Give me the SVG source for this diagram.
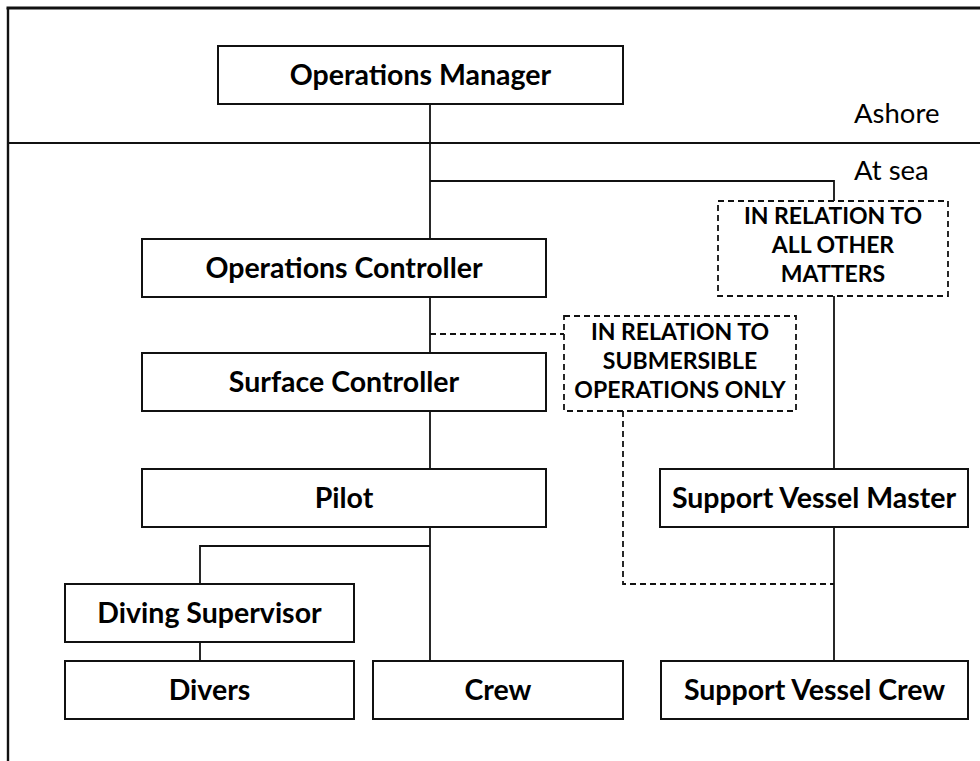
<svg xmlns="http://www.w3.org/2000/svg" width="980" height="761" viewBox="0 0 980 761">
<style>
  .box { fill: #fff; stroke: #111; stroke-width: 2; }
  .note { fill: #fff; stroke: #111; stroke-width: 1.8; stroke-dasharray: 6 4; }
  .lbl { font-family: Lato, "Liberation Sans", sans-serif; font-weight: bold; font-size: 28.5px; fill: #000; text-anchor: middle; }
  .nt { font-family: Lato, "Liberation Sans", sans-serif; font-weight: bold; font-size: 23px; fill: #000; text-anchor: middle; }
  .zone { font-family: Lato, "Liberation Sans", sans-serif; font-size: 27.5px; fill: #000; }
  .ln { fill: none; stroke: #111; stroke-width: 1.8; }
  .dl { fill: none; stroke: #111; stroke-width: 1.8; stroke-dasharray: 6 4; }
</style>
<rect width="980" height="761" fill="#fff"/>
<g id="frame">
  <line x1="6.5" y1="8" x2="980" y2="8" stroke="#111" stroke-width="3"/>
  <line x1="8" y1="8" x2="8" y2="761" stroke="#111" stroke-width="2.4"/>
  <line x1="8" y1="143" x2="980" y2="143" stroke="#111" stroke-width="2"/>
  <text class="zone" x="854" y="123">Ashore</text>
  <text class="zone" x="854" y="180">At sea</text>
</g>
<g id="connectors">
  <path class="ln" d="M430,104 V239"/>
  <path class="ln" d="M430,181 H834 V201"/>
  <path class="ln" d="M834,296 V469"/>
  <path class="ln" d="M430,297 V353"/>
  <path class="dl" d="M430,334 H564"/>
  <path class="ln" d="M430,411 V469"/>
  <path class="ln" d="M430,527 V661"/>
  <path class="ln" d="M430,546 H200 V584"/>
  <path class="ln" d="M200,642 V661"/>
  <path class="ln" d="M834,527 V661"/>
  <path class="dl" d="M623,411 V584 H834"/>
</g>
<g id="operations-manager">
  <rect class="box" x="218" y="46" width="405" height="58"/>
  <text class="lbl" x="420.5" y="85">Operations Manager</text>
</g>
<g id="operations-controller">
  <rect class="box" x="142" y="239" width="404" height="58"/>
  <text class="lbl" x="344" y="278">Operations Controller</text>
</g>
<g id="surface-controller">
  <rect class="box" x="142" y="353" width="404" height="58"/>
  <text class="lbl" x="344" y="392">Surface Controller</text>
</g>
<g id="pilot">
  <rect class="box" x="142" y="469" width="404" height="58"/>
  <text class="lbl" x="344" y="508">Pilot</text>
</g>
<g id="diving-supervisor">
  <rect class="box" x="65" y="584" width="289" height="58"/>
  <text class="lbl" x="209.5" y="623">Diving Supervisor</text>
</g>
<g id="divers">
  <rect class="box" x="65" y="661" width="289" height="58"/>
  <text class="lbl" x="209.5" y="700">Divers</text>
</g>
<g id="crew">
  <rect class="box" x="373" y="661" width="250" height="58"/>
  <text class="lbl" x="498" y="700">Crew</text>
</g>
<g id="support-vessel-master">
  <rect class="box" x="660" y="469" width="308" height="58"/>
  <text class="lbl" x="814" y="508">Support Vessel Master</text>
</g>
<g id="support-vessel-crew">
  <rect class="box" x="661" y="661" width="307" height="58"/>
  <text class="lbl" x="814.5" y="700">Support Vessel Crew</text>
</g>
<g id="note-all-other-matters">
  <rect class="note" x="718" y="201" width="230" height="95"/>
  <text class="nt" x="833" y="224">IN RELATION TO</text>
  <text class="nt" x="833" y="253">ALL OTHER</text>
  <text class="nt" x="833" y="282">MATTERS</text>
</g>
<g id="note-submersible">
  <rect class="note" x="564" y="316" width="232" height="95"/>
  <text class="nt" x="680" y="340">IN RELATION TO</text>
  <text class="nt" x="680" y="369">SUBMERSIBLE</text>
  <text class="nt" x="680" y="398">OPERATIONS ONLY</text>
</g>
</svg>
